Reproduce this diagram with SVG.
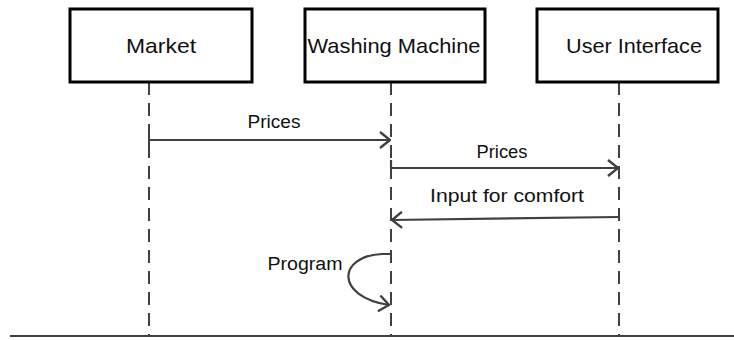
<svg xmlns="http://www.w3.org/2000/svg" width="734" height="340" viewBox="0 0 734 340">
<style>
.box{fill:#fff;stroke:#000;stroke-width:3}
.nl{font-family:"Liberation Sans",Arial,sans-serif;font-size:21px;fill:#111;text-anchor:middle}
.ml{font-family:"Liberation Sans",Arial,sans-serif;font-size:18px;fill:#111;text-anchor:middle}
.life{stroke:#404040;stroke-width:2;stroke-dasharray:13 8;fill:none}
.msg{stroke:#404040;stroke-width:2.2;fill:none;marker-end:url(#arr)}
</style>
<defs>
<marker id="arr" markerUnits="userSpaceOnUse" viewBox="0 0 12 18" markerWidth="12" markerHeight="18" refX="11" refY="9" orient="auto">
<path d="M1,1 L11,9 L1,17" fill="none" stroke="#404040" stroke-width="2.4"/>
</marker>
</defs>
<g id="lifelines">
<line class="life" x1="149" y1="82" x2="149" y2="335"/>
<line class="life" x1="391" y1="82" x2="391" y2="335"/>
<line class="life" x1="619" y1="82" x2="619" y2="335"/>
</g>
<g id="market">
<rect class="box" x="70" y="9" width="182" height="73"/>
<text class="nl" x="161" y="53" textLength="70" lengthAdjust="spacingAndGlyphs">Market</text>
</g>
<g id="washing-machine">
<rect class="box" x="305" y="9" width="180" height="73"/>
<text class="nl" x="394" y="53" textLength="173" lengthAdjust="spacingAndGlyphs">Washing Machine</text>
</g>
<g id="user-interface">
<rect class="box" x="537" y="9" width="181" height="73"/>
<text class="nl" x="634" y="53" textLength="136" lengthAdjust="spacingAndGlyphs">User Interface</text>
</g>
<g id="connectors">
<line x1="149" y1="133" x2="149" y2="146" stroke="#404040" stroke-width="2"/>
<line class="msg" x1="149" y1="140" x2="390" y2="140"/>
<text class="ml" x="274" y="128" textLength="53" lengthAdjust="spacingAndGlyphs">Prices</text>
<path d="M391,160 L391,168 L618,168" class="msg"/>
<text class="ml" x="502" y="158" textLength="51" lengthAdjust="spacingAndGlyphs">Prices</text>
<path class="msg" d="M619,217 L392,220"/>
<text class="ml" x="507" y="202" textLength="154" lengthAdjust="spacingAndGlyphs">Input for comfort</text>
<path class="msg" d="M391,254 L382,254 C338,256 334,296 389,305"/>
<text class="ml" x="305" y="270" textLength="75" lengthAdjust="spacingAndGlyphs">Program</text>
<line x1="10" y1="336" x2="734" y2="336" stroke="#404040" stroke-width="2.2"/>
</g>
</svg>
